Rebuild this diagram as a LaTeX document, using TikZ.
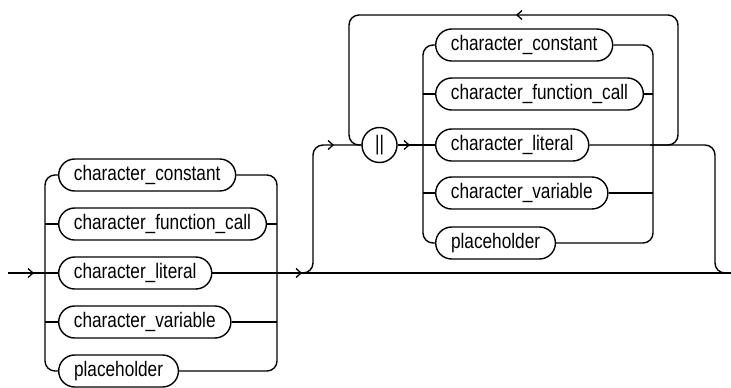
\documentclass[tikz,border=0pt]{standalone}
\usepackage{fontspec}
\setmainfont[FakeStretch=0.82]{Liberation Sans}
\usetikzlibrary{shapes.misc,arrows.meta}
\tikzset{
  rr/.style={draw, rounded rectangle, minimum height=32pt, inner xsep=12pt, inner ysep=0pt,
    font=\fontsize{21pt}{24pt}\selectfont, line width=1.4pt, anchor=west},
  term/.style={draw, circle, minimum size=35pt, inner sep=0pt, line width=1.4pt,
    font=\fontsize{21pt}{24pt}\selectfont},
  wire/.style={line width=1.4pt, rounded corners=10pt},
  chev/.pic={\draw[line width=1.3pt] (-5pt,-4.5pt) -- (0pt,0pt) -- (-5pt,4.5pt);}
}
\begin{document}
\begin{tikzpicture}[x=1pt,y=-1pt]
\useasboundingbox (0,0) rectangle (731,388);
% left group
\node[rr, minimum width=174pt] (a1) at (58,175) {character\_constant};
\node[rr, minimum width=205pt] (a2) at (58,224) {character\_function\_call};
\node[rr, minimum width=149pt] (a3) at (58,273) {character\_literal};
\node[rr, minimum width=169pt] (a4) at (58,322) {character\_variable};
\node[rr, minimum width=117pt] (a5) at (58,371) {placeholder};
% right group
\node[term] (cc) at (379.5,145) {||};
\node[rr, minimum width=175pt] (b1) at (435,45) {character\_constant};
\node[rr, minimum width=207pt] (b2) at (435,94) {character\_function\_call};
\node[rr, minimum width=151pt] (b3) at (435,145) {character\_literal};
\node[rr, minimum width=170pt] (b4) at (435,193) {character\_variable};
\node[rr, minimum width=117pt] (b5) at (435,243) {placeholder};
% coordinates
\coordinate (start) at (8,273);
\coordinate (lr) at (45,273);
\coordinate (lr2) at (45,224);
\coordinate (lr4) at (45,322);
\coordinate (rr) at (277,273);
\coordinate (rr2) at (277,224);
\coordinate (rr4) at (277,322);
\coordinate (end) at (731,273);
\coordinate (byA) at (290,273);
\coordinate (byB) at (313,273);
\coordinate (byC) at (313,145);
\coordinate (il) at (423,145);
\coordinate (il2) at (423,94);
\coordinate (il4) at (423,193);
\coordinate (ir) at (653,145);
\coordinate (ir2) at (653,94);
\coordinate (ir4) at (653,193);
\coordinate (ex) at (715,273);
\coordinate (lpA) at (650,145);
\coordinate (lpB) at (678,145);
\coordinate (lpC) at (678,15);
\coordinate (lpD) at (349,15);
\coordinate (lpE) at (349,145);
% left group wiring
\draw[wire] (start) -- (a3.west);
\draw[wire] (lr) |- (a1.west);
\draw[wire] (lr) |- (a5.west);
\draw[wire] (lr2) -- (a2.west);
\draw[wire] (lr4) -- (a4.west);
\draw[wire] (a1.east) -| (rr);
\draw[wire] (a5.east) -| (rr);
\draw[wire] (a2.east) -- (rr2);
\draw[wire] (a4.east) -- (rr4);
\draw[wire] (a3.east) -- (end);
\pic at (33,273) {chev};
\pic at (301,273) {chev};
% bypass to repeat group
\draw[wire] (byA) -- (byB) -- (byC) -- (cc.west);
\pic at (333,145) {chev};
\draw[wire] (cc.east) -- (b3.west);
\pic at (409,145) {chev};
\draw[wire] (il) |- (b1.west);
\draw[wire] (il) |- (b5.west);
\draw[wire] (il2) -- (b2.west);
\draw[wire] (il4) -- (b4.west);
\draw[wire] (b1.east) -| (ir);
\draw[wire] (b5.east) -| (ir);
\draw[wire] (b2.east) -- (ir2);
\draw[wire] (b4.east) -- (ir4);
\draw[wire] (b3.east) -| (ex) -- (end);
% loop back
\draw[wire] (lpA) -- (lpB) -- (lpC) -- (lpD) -- (lpE) -- (cc.west);
\pic[rotate=180] at (517,15) {chev};
\end{tikzpicture}
\end{document}
